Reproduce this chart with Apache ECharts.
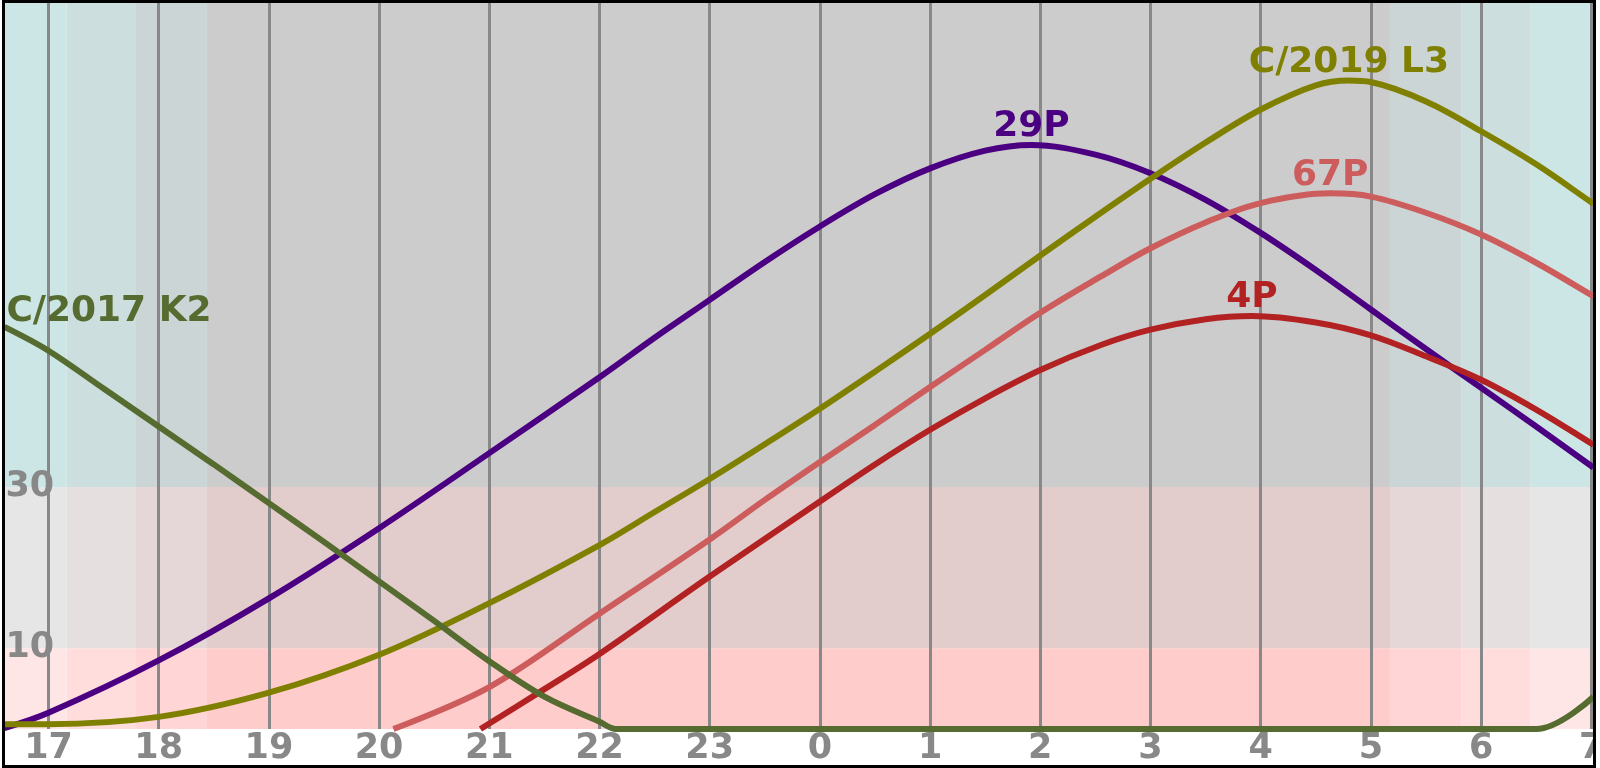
<!DOCTYPE html>
<html><head><meta charset="utf-8">
<script src="https://cdn.jsdelivr.net/npm/echarts@6/dist/echarts.min.js"></script>
<style>html,body{margin:0;padding:0;background:#fff}#c{width:1600px;height:768px}</style>
</head><body><div id="c"></div>
<script>
// ---- tick labels ----
const hourTicks  = [17,18,19,20,21,22,23,24,25,26,27,28,29,30,31];
const hourLabels = ['17','18','19','20','21','22','23','0','1','2','3','4','5','6','7'];
const altTicks   = [10, 30];

// ---- series (hour since midnight of first day, altitude in degrees) ----
const names  = ['29P','C/2019 L3','67P','4P','C/2017 K2'];
const colors = ['#4b0082','#808000','#cd5c5c','#b22222','#556b2f'];

const t29P   = [16.6,17,18,19,20,21,22,22.5,23,23.5,24,24.5,25,25.5,25.92,26.5,27,27.5,28,28.5,29,29.5,30,30.5,31,31.02];
const alt29P = [0.1,2.0,8.5,16.2,24.9,34.2,43.6,48.5,53.2,57.9,62.3,66.3,69.5,71.7,72.4,71.2,68.9,65.6,61.5,56.9,52.0,47.1,42.3,37.5,32.6,32.4];

const tL3    = [16.6,17,18,19,20,21,22,22.5,23,23.5,24,24.5,25,25.5,26,26.5,27,27.5,28,28.5,28.8,29,29.5,30,30.5,31,31.02];
const altL3  = [0.6,0.6,1.5,4.5,9.2,15.6,22.8,26.9,31.0,35.3,39.7,44.3,49.0,53.8,58.7,63.5,68.2,72.7,76.8,79.8,80.4,80.2,77.8,74.1,70.0,65.3,65.1];

const t67P   = [20.13,21,22,23,23.5,24,24.5,25,25.5,26,26.55,27,27.5,28,28.63,29,29.5,30,30.5,31,31.02];
const alt67P = [0,5.2,14.3,23.5,28.4,33.1,37.7,42.4,47.0,51.6,56.1,59.6,62.8,65.2,66.4,66.0,64.0,61.3,57.8,53.8,53.6];

const t4P    = [20.92,21.46,22,23,24,24.5,25,25.5,26,26.55,27,27.5,27.92,28.5,29,29.5,30,30.5,31,31.02];
const alt4P  = [0,4.6,9.3,18.9,28.2,32.8,37.1,41.0,44.5,47.6,49.5,50.8,51.2,50.4,48.8,46.2,43.3,39.6,35.4,35.2];

const tK2    = [16.6,17,17.5,18,18.5,19,19.5,20,20.5,21,21.5,22,22.15,30.5,31.02];
const altK2  = [49.85,46.9,42.2,37.5,32.8,28.0,23.2,18.3,13.4,8.4,4.0,0.9,0,0,4.0];

// ---- background zones ----
const twilightEdges = [16.6,17.165,17.794,18.438,29.173,29.824,30.45,31.02];
const twilightLevel = [0,1,2,3,2,1,0];          // 0 = brightest, 3 = night
const altEdges = [0,10,30,90];
const zoneColors = [
  ['#ffe6e6','#ffdddd','#ffd5d5','#ffcccc'],   // 0-10
  ['#e6e6e6','#e6dfdf','#e5d7d7','#e3cccc'],   // 10-30
  ['#cce6e6','#ccdede','#ccd5d5','#cccccc']    // 30-90
];

const times = [t29P,tL3,t67P,t4P,tK2];
const alts  = [alt29P,altL3,alt67P,alt4P,altK2];

const FONT = 'DejaVu Sans';
const areas = [];
for (let r = 0; r < 3; r++) {
  for (let c = 0; c < twilightLevel.length; c++) {
    areas.push([
      {xAxis: twilightEdges[c], yAxis: altEdges[r], itemStyle: {color: zoneColors[r][twilightLevel[c]], opacity: 1, borderWidth: 0}},
      {xAxis: twilightEdges[c+1], yAxis: altEdges[r+1]}
    ]);
  }
}

const series = names.map((n, i) => {
  const isK2 = i === 4;
  const s = {
    name: n, type: 'line', z: 3,
    data: times[i].map((t, k) => [t, alts[i][k]]),
    showSymbol: false, smooth: 0.35, clip: false,
    lineStyle: {color: colors[i], width: 6},
    itemStyle: {color: colors[i]},
    silent: true,
    markPoint: {
      symbol: 'circle', symbolSize: 0, silent: true, z: 5,
      data: [{type: 'max'}],
      label: {
        show: true, position: 'top', distance: 0,
        align: isK2 ? 'left' : 'center', offset: isK2 ? [2, 3] : [0, 0],
        formatter: n, color: colors[i], fontSize: 36, fontWeight: 'bold', fontFamily: FONT
      }
    }
  };
  if (i === 0) {
    s.markArea = {silent: true, z: 1, label: {show: false}, data: areas};
    s.markLine = {
      silent: true, z: 2, symbol: 'none', label: {show: false},
      lineStyle: {color: '#888888', width: 3, type: 'solid'},
      data: hourTicks.map(h => ({xAxis: h}))
    };
  }
  return s;
});

const chart = echarts.init(document.getElementById('c'));
chart.setOption({
  animation: false,
  backgroundColor: '#ffffff',
  grid: {left: 4.4, right: 6.5, top: 3, bottom: 39, containLabel: false, outerBoundsMode: 'none'},
  xAxis: {
    type: 'value', min: 16.6, max: 31.02, z: 4,
    axisLine: {show: false}, axisTick: {show: false}, splitLine: {show: false},
    axisLabel: {
      customValues: hourTicks, hideOverlap: false,
      formatter: v => hourLabels[hourTicks.indexOf(Math.round(v))],
      color: '#888888', fontSize: 35, fontWeight: 'bold', fontFamily: FONT,
      margin: 20, verticalAlign: 'middle'
    }
  },
  yAxis: {
    type: 'value', min: 0, max: 90, z: 4,
    axisLine: {show: false}, axisTick: {show: false}, splitLine: {show: false},
    axisLabel: {
      inside: true, customValues: altTicks, margin: 1,
      color: '#888888', fontSize: 35, fontWeight: 'bold', fontFamily: FONT,
      align: 'left', verticalAlign: 'middle'
    }
  },
  graphic: [
    {type: 'rect', silent: true, z: 100, shape: {x: 1596, y: 0, width: 4, height: 768}, style: {fill: '#ffffff'}},
    {type: 'rect', silent: true, z: 101, shape: {x: 3.5, y: 1.5, width: 1591, height: 765}, style: {fill: 'none', stroke: '#000000', lineWidth: 3}}
  ],
  series: series
});
</script></body></html>
